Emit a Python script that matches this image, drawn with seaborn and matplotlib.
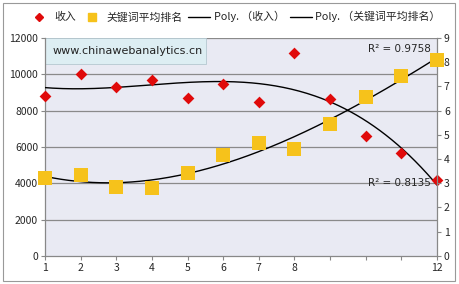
import numpy as np
import pandas as pd
import matplotlib
matplotlib.use("Agg")
import matplotlib.pyplot as plt
from matplotlib.lines import Line2D
from matplotlib.patches import Rectangle
import seaborn as sns

# ---- data ----
x_pos = [1, 2, 3, 4, 5, 6, 7, 8, 9, 10, 11, 12]
x_labels = ["1", "2", "3", "4", "5", "6", "7", "8", "", "", "", "12"]
income = [8800, 10000, 9300, 9700, 8700, 9450, 8500, 11200, 8650, 6600, 5650, 4200]
rank = [3.22, 3.35, 2.85, 2.81, 3.43, 4.17, 4.67, 4.42, 5.45, 6.57, 7.44, 8.1]
r2_income = "R² = 0.8135"
r2_rank = "R² = 0.9758"
watermark = "www.chinawebanalytics.cn"
legend_labels = ["收入", "关键词平均排名", "Poly. （收入）", "Poly. （关键词平均排名）"]

sns.set_style("white")
plt.rcParams['font.family'] = ['Noto Sans CJK SC', 'DejaVu Sans']

RED = "#E00A0A"
GOLD = "#F6C21B"
BG = "#E9EAF3"

df = pd.DataFrame({"x": x_pos, "income": income, "rank": rank})
xs = np.linspace(1, 12, 200)
p_inc = np.polyfit(x_pos, income, 3)
p_rank = np.polyfit(x_pos, rank, 3)
trend = pd.DataFrame({"x": xs, "inc": np.polyval(p_inc, xs), "rank": np.polyval(p_rank, xs)})

fig = plt.figure(figsize=(4.6, 2.84), dpi=100)
fig.patch.set_facecolor("white")
ax = fig.add_axes([0.098, 0.099, 0.852, 0.767])
ax2 = ax.twinx()
ax.set_facecolor(BG)
ax.set_zorder(ax2.get_zorder() - 1)
ax2.patch.set_visible(False)

ax.set_xlim(1, 12)
ax.set_ylim(0, 12000)
ax2.set_ylim(0, 9)
for v in range(2000, 12001, 2000):
    ax.axhline(v, color="#8a8a8a", lw=0.9, zorder=1)

# watermark box
ax.add_patch(Rectangle((0.0, 0.88), 0.41, 0.12, transform=ax.transAxes,
                       facecolor="#DDEEF3", edgecolor="#B5C8D0", lw=0.6, zorder=1.5))
ax.text(0.02, 0.94, watermark, transform=ax.transAxes, fontsize=8,
        family=['DejaVu Sans'], va="center", ha="left", color="#222222", zorder=2)

# trend lines (income on left axis, rank on right)
sns.lineplot(data=trend, x="x", y="inc", ax=ax, color="black", lw=1.0, zorder=3)
sns.lineplot(data=trend, x="x", y="rank", ax=ax2, color="black", lw=1.0, zorder=3)

sns.scatterplot(data=df, x="x", y="income", ax=ax, marker="D", s=36, color=RED,
                edgecolor=RED, linewidth=0, zorder=4, clip_on=False)
sns.scatterplot(data=df, x="x", y="rank", ax=ax2, marker="s", s=90, color=GOLD,
                edgecolor=GOLD, linewidth=0, zorder=4, clip_on=False)

ax2.text(10.95, 8.55, r2_rank, fontsize=7.5, family=['DejaVu Sans'], ha="center", va="center")
ax2.text(10.95, 3.0, r2_income, fontsize=7.5, family=['DejaVu Sans'], ha="center", va="center")

ax.set_xticks(x_pos)
ax.set_xticklabels(x_labels)
ax.set_yticks(range(0, 12001, 2000))
ax2.set_yticks(range(0, 10))
for a in (ax, ax2):
    a.set_xlabel("")
    a.set_ylabel("")
    a.tick_params(labelsize=7.5, length=3, width=0.8, color="#888888", pad=2)
    for s in a.spines.values():
        s.set_visible(False)
ax.tick_params(axis="x", bottom=True, direction="out")
ax.tick_params(axis="y", left=True, direction="out")
ax2.tick_params(axis="y", right=True, direction="out")
ax.spines["left"].set_visible(True)
ax.spines["bottom"].set_visible(True)
ax2.spines["right"].set_visible(True)
for s in (ax.spines["left"], ax.spines["bottom"], ax2.spines["right"]):
    s.set_color("#888888")
    s.set_linewidth(0.9)

handles = [
    Line2D([], [], marker="D", color=RED, ls="none", markersize=4.5),
    Line2D([], [], marker="s", color=GOLD, ls="none", markersize=6),
    Line2D([], [], color="black", lw=1.0),
    Line2D([], [], color="black", lw=1.0),
]
fig.legend(handles, legend_labels, loc="upper center", bbox_to_anchor=(0.51, 0.995),
           ncol=4, frameon=False, fontsize=7.8, handlelength=2.0, handletextpad=0.35,
           columnspacing=0.5)

fig.add_artist(Rectangle((0.006, 0.01), 0.984, 0.98, transform=fig.transFigure,
                         fill=False, edgecolor="#999999", lw=0.8))

fig.savefig("out.png", dpi=100)
